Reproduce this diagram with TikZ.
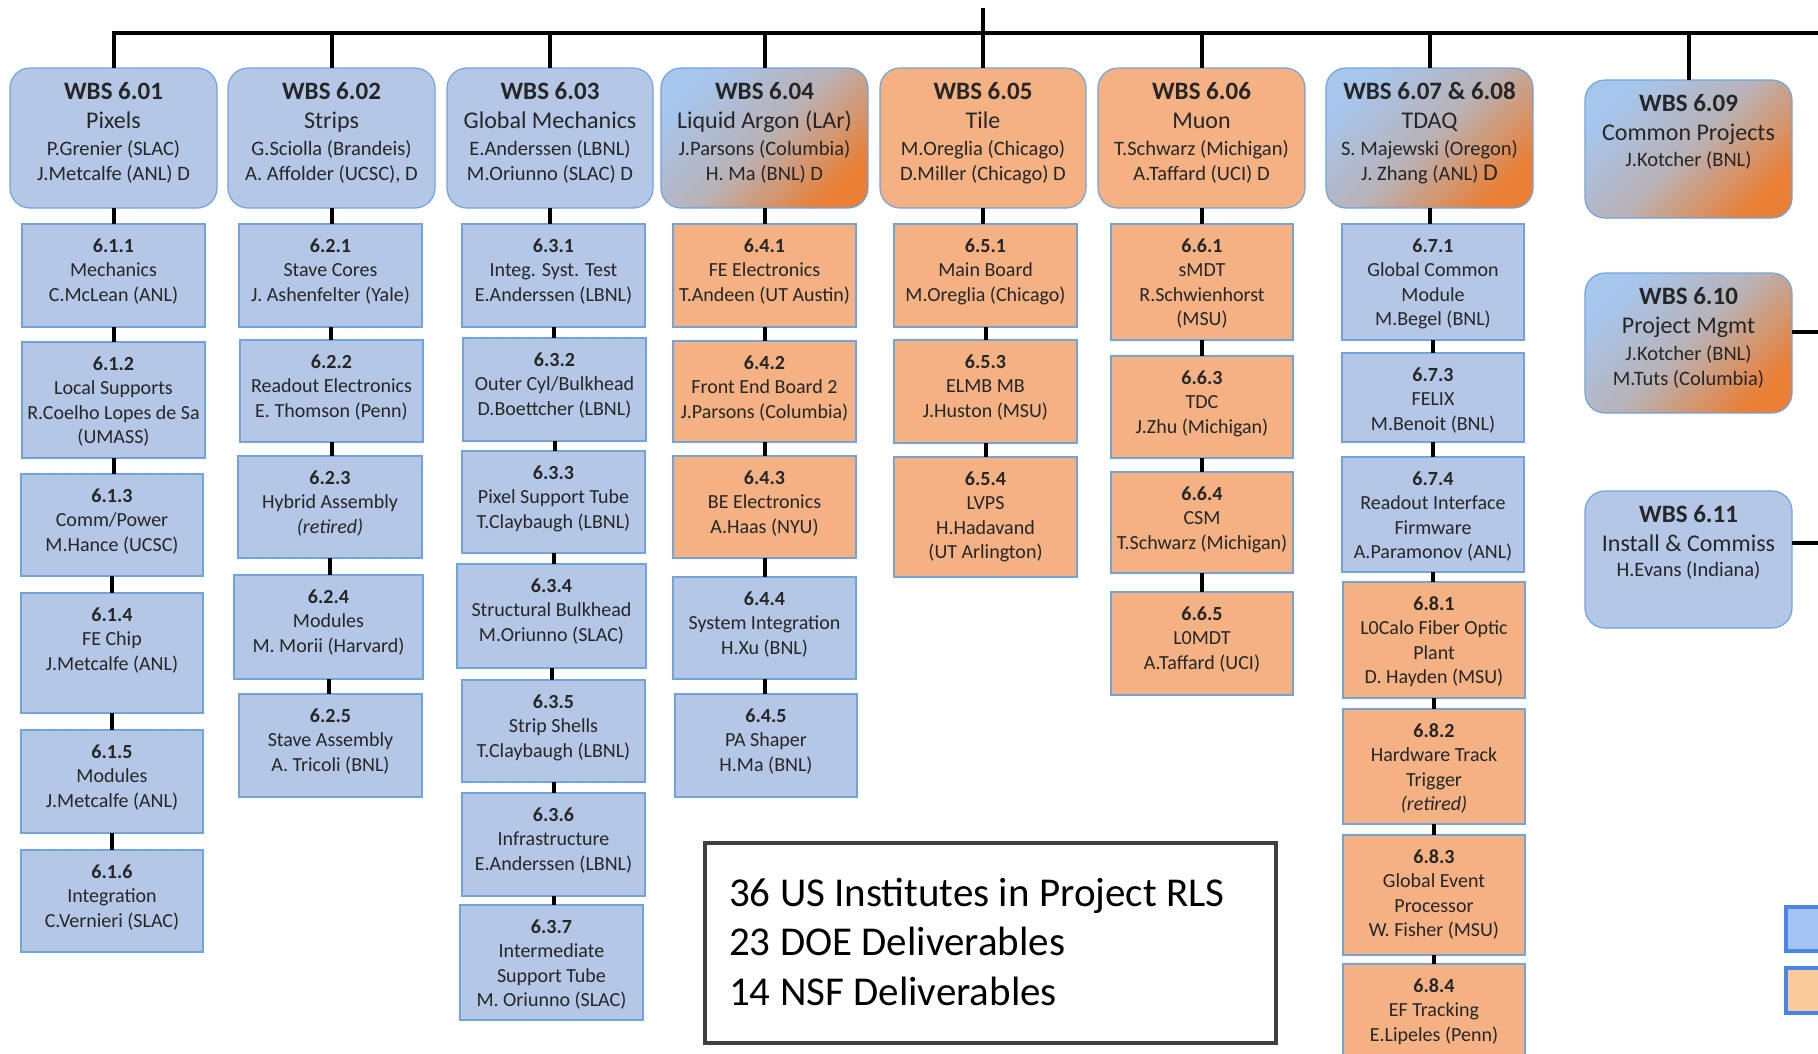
\documentclass[tikz,border=0pt]{standalone}
\usepackage{fontspec}
\setmainfont{Carlito}
\usetikzlibrary{calc}
\definecolor{bfill}{HTML}{B4C7E7}
\definecolor{bline}{HTML}{72A3DB}
\definecolor{ofill}{HTML}{F4B183}
\definecolor{gblue}{HTML}{A6C6EE}
\definecolor{gmid}{HTML}{B9B2B6}
\definecolor{gorange}{HTML}{EA7F35}
\definecolor{txt}{HTML}{262626}
\definecolor{lgblue}{HTML}{A4C2F4}
\definecolor{lgborder}{HTML}{4A86E8}
\definecolor{lgorange}{HTML}{F9CB9C}
\definecolor{sumline}{HTML}{404040}
\tikzset{
  boxbase/.style={draw=bline, line width=1.6pt, inner sep=0pt, outer sep=0pt, rectangle},
  subblue/.style={boxbase, fill=bfill},
  suborange/.style={boxbase, fill=ofill},
  topblue/.style={boxbase, line width=1.2pt, rounded corners=20pt, fill=bfill},
  toporange/.style={boxbase, line width=1.2pt, rounded corners=20pt, fill=ofill},
  topgrad/.style={boxbase, line width=1.2pt, rounded corners=20pt,
    top color=gblue, bottom color=gorange, middle color=gmid, shading angle=45},
  subtxt/.style={anchor=north, inner sep=0pt, align=center, text=txt,
    font=\fontsize{20pt}{24.5pt}\selectfont},
  toptxt/.style={anchor=north, inner sep=0pt, align=center, text=txt,
    font=\fontsize{20.5pt}{29pt}\selectfont},
  conn/.style={line width=4pt, draw=black},
  legendbox/.style={draw=lgborder, line width=4pt, inner sep=0pt, rectangle},
}
% name, style, x1, y1, x2, y2, text
\newcommand\subbx[7]{%
  \node[#2, minimum width={#5pt-#3pt}, minimum height={#6pt-#4pt}] (#1) at ({(#3+#5)/2},{(#4+#6)/2}) {};
  \node[subtxt] (#1t) at ([yshift=-12pt]#1.north) {\rule{0pt}{16pt}#7};
}
\newcommand\topbx[7]{%
  \node[#2, minimum width={#5pt-#3pt}, minimum height={#6pt-#4pt}] (#1) at ({(#3+#5)/2},{(#4+#6)/2}) {};
  \node[toptxt] (#1t) at ([yshift=-11pt]#1.north) {\rule{0pt}{20pt}#7};
}
\newcommand\hd[1]{\textbf{\fontsize{25pt}{29pt}\selectfont #1}}
\newcommand\tn[1]{{\fontsize{24pt}{29pt}\selectfont #1}}
\begin{document}
\begin{tikzpicture}[x=1pt,y=-1pt]
\path[use as bounding box] (0,0) rectangle (1818,1053);
\clip (0,0) rectangle (1818,1053);
\fill[white] (0,0) rectangle (1818,1053);

% ---------- top level boxes ----------
\topbx{t1}{topblue}{10}{68}{217}{208}{\hd{WBS 6.01}\\\tn{Pixels}\\[-2pt]P.Grenier (SLAC)\\[-4pt]J.Metcalfe (ANL) D}
\topbx{t2}{topblue}{228}{68}{435}{208}{\hd{WBS 6.02}\\\tn{Strips}\\[-2pt]G.Sciolla (Brandeis)\\[-4pt]A. Affolder (UCSC), D}
\topbx{t3}{topblue}{447}{68}{653}{208}{\hd{WBS 6.03}\\\tn{Global Mechanics}\\[-2pt]E.Anderssen (LBNL)\\[-4pt]M.Oriunno (SLAC) D}
\topbx{t4}{topgrad}{661}{68}{868}{208}{\hd{WBS 6.04}\\\tn{Liquid Argon (LAr)}\\[-2pt]J.Parsons (Columbia)\\[-4pt]H. Ma (BNL) D}
\topbx{t5}{toporange}{880}{68}{1086}{208}{\hd{WBS 6.05}\\\tn{Tile}\\[-2pt]M.Oreglia (Chicago)\\[-4pt]D.Miller (Chicago) D}
\topbx{t6}{toporange}{1098}{68}{1305}{208}{\hd{WBS 6.06}\\\tn{Muon}\\[-2pt]T.Schwarz (Michigan)\\[-4pt]A.Taffard (UCI) D}
\topbx{t7}{topgrad}{1326}{68}{1533}{208}{\hd{WBS 6.07 \& 6.08}\\\tn{TDAQ}\\[-2pt]S. Majewski (Oregon)\\[-4pt]J. Zhang (ANL) {\fontsize{24pt}{24pt}\selectfont D}}
\topbx{t9}{topgrad}{1585}{80}{1792}{218}{\hd{WBS 6.09}\\\tn{Common Projects}\\[-3pt]J.Kotcher (BNL)}
\topbx{t10}{topgrad}{1585}{273}{1792}{413}{\hd{WBS 6.10}\\\tn{Project Mgmt}\\[-2pt]J.Kotcher (BNL)\\[-4pt]M.Tuts (Columbia)}
\topbx{t11}{topblue}{1585}{491}{1792}{628}{\hd{WBS 6.11}\\\tn{Install \& Commiss}\\[-4pt]H.Evans (Indiana)}

% ---------- column 6.1 ----------
\subbx{s611}{subblue}{22}{224}{205}{327}{\textbf{6.1.1}\\Mechanics\\C.McLean (ANL)}
\subbx{s612}{subblue}{22}{342}{205}{458}{\textbf{6.1.2}\\Local Supports\\R.Coelho Lopes de Sa\\(UMASS)}
\subbx{s613}{subblue}{21}{474}{203}{576}{\textbf{6.1.3}\\Comm/Power\\M.Hance (UCSC)}
\subbx{s614}{subblue}{21}{593}{203}{713}{\textbf{6.1.4}\\FE Chip\\J.Metcalfe (ANL)}
\subbx{s615}{subblue}{21}{730}{203}{833}{\textbf{6.1.5}\\Modules\\J.Metcalfe (ANL)}
\subbx{s616}{subblue}{21}{850}{203}{952}{\textbf{6.1.6}\\Integration\\C.Vernieri (SLAC)}

% ---------- column 6.2 ----------
\subbx{s621}{subblue}{239}{224}{422}{327}{\textbf{6.2.1}\\Stave Cores\\J. Ashenfelter (Yale)}
\subbx{s622}{subblue}{240}{340}{423}{442}{\textbf{6.2.2}\\Readout Electronics\\E. Thomson (Penn)}
\subbx{s623}{subblue}{238}{456}{422}{558}{\textbf{6.2.3}\\Hybrid Assembly\\\textit{(retired)}}
\subbx{s624}{subblue}{234}{575}{423}{679}{\textbf{6.2.4}\\Modules\\M. Morii (Harvard)}
\subbx{s625}{subblue}{239}{694}{422}{797}{\textbf{6.2.5}\\Stave Assembly\\A. Tricoli (BNL)}

% ---------- column 6.3 ----------
\subbx{s631}{subblue}{462}{224}{645}{327}{\textbf{6.3.1}\\Integ. Syst. Test\\E.Anderssen (LBNL)}
\subbx{s632}{subblue}{463}{338}{646}{441}{\textbf{6.3.2}\\Outer Cyl/Bulkhead\\D.Boettcher (LBNL)}
\subbx{s633}{subblue}{462}{451}{645}{553}{\textbf{6.3.3}\\Pixel Support Tube\\T.Claybaugh (LBNL)}
\subbx{s634}{subblue}{457}{564}{646}{668}{\textbf{6.3.4}\\Structural Bulkhead\\M.Oriunno (SLAC)}
\subbx{s635}{subblue}{462}{680}{645}{782}{\textbf{6.3.5}\\Strip Shells\\T.Claybaugh (LBNL)}
\subbx{s636}{subblue}{462}{793}{645}{896}{\textbf{6.3.6}\\Infrastructure\\E.Anderssen (LBNL)}
\subbx{s637}{subblue}{460}{905}{643}{1020}{\textbf{6.3.7}\\Intermediate\\Support Tube\\M. Oriunno (SLAC)}

% ---------- column 6.4 ----------
\subbx{s641}{suborange}{673}{224}{856}{327}{\textbf{6.4.1}\\FE Electronics\\T.Andeen (UT Austin)}
\subbx{s642}{suborange}{673}{341}{856}{442}{\textbf{6.4.2}\\Front End Board 2\\J.Parsons (Columbia)}
\subbx{s643}{suborange}{673}{456}{856}{558}{\textbf{6.4.3}\\BE Electronics\\A.Haas (NYU)}
\subbx{s644}{subblue}{673}{577}{856}{679}{\textbf{6.4.4}\\System Integration\\H.Xu (BNL)}
\subbx{s645}{subblue}{675}{694}{857}{797}{\textbf{6.4.5}\\PA Shaper\\H.Ma (BNL)}

% ---------- column 6.5 ----------
\subbx{s651}{suborange}{894}{224}{1077}{327}{\textbf{6.5.1}\\Main Board\\M.Oreglia (Chicago)}
\subbx{s653}{suborange}{894}{340}{1077}{443}{\textbf{6.5.3}\\ELMB MB\\J.Huston (MSU)}
\subbx{s654}{suborange}{894}{457}{1077}{577}{\textbf{6.5.4}\\LVPS\\H.Hadavand\\(UT Arlington)}

% ---------- column 6.6 ----------
\subbx{s661}{suborange}{1111}{224}{1293}{340}{\textbf{6.6.1}\\sMDT\\R.Schwienhorst\\(MSU)}
\subbx{s663}{suborange}{1111}{356}{1293}{458}{\textbf{6.6.3}\\TDC\\J.Zhu (Michigan)}
\subbx{s664}{suborange}{1111}{472}{1293}{573}{\textbf{6.6.4}\\CSM\\T.Schwarz (Michigan)}
\subbx{s665}{suborange}{1111}{592}{1293}{695}{\textbf{6.6.5}\\L0MDT\\A.Taffard (UCI)}

% ---------- column 6.7 / 6.8 ----------
\subbx{s671}{subblue}{1342}{224}{1524}{340}{\textbf{6.7.1}\\Global Common\\Module\\M.Begel (BNL)}
\subbx{s673}{subblue}{1342}{353}{1524}{442}{\textbf{6.7.3}\\FELIX\\M.Benoit (BNL)}
\subbx{s674}{subblue}{1342}{457}{1524}{572}{\textbf{6.7.4}\\Readout Interface\\Firmware\\A.Paramonov (ANL)}
\subbx{s681}{suborange}{1343}{582}{1525}{698}{\textbf{6.8.1}\\L0Calo Fiber Optic\\Plant\\D. Hayden (MSU)}
\subbx{s682}{suborange}{1343}{709}{1525}{824}{\textbf{6.8.2}\\Hardware Track\\Trigger\\\textit{(retired)}}
\subbx{s683}{suborange}{1343}{835}{1525}{955}{\textbf{6.8.3}\\Global Event\\Processor\\W. Fisher (MSU)}
\subbx{s684}{suborange}{1343}{964}{1525}{1090}{\textbf{6.8.4}\\EF Tracking\\E.Lipeles (Penn)}

% ---------- summary box ----------
\node[draw=sumline, line width=4pt, fill=white, inner sep=0pt, minimum width=571pt, minimum height=200pt] (sum) at (990.5,943) {};
\node[anchor=north west, inner sep=0pt, align=left, text=black,
      font=\fontsize{41pt}{49.5pt}\selectfont] (sumt) at (729,876)
  {\rule{0pt}{30pt}36 US Institutes in Project RLS\\23 DOE Deliverables\\14 NSF Deliverables};

% ---------- legend (cut at right edge) ----------
\node[legendbox, fill=lgblue, minimum width=50pt, minimum height=44pt] (lg1) at (1811,929) {};
\node[legendbox, fill=lgorange, minimum width=50pt, minimum height=45pt] (lg2) at (1811,990.5) {};

% ---------- connectors ----------
\coordinate (bus) at (1818,33);
\coordinate (root) at (984,8);
\coordinate (e10) at (1818,332);
\coordinate (e11) at (1818,543);
\draw[conn] (t1.north) |- (bus);
\foreach \t in {t2,t3,t4,t6,t7,t9}{\draw[conn] (\t.north) -- (\t.north |- bus);}
\draw[conn] (t5.north) -- (t5.north |- root);
\draw[conn] (t10.east |- e10) -- (e10);
\draw[conn] (t11.east |- e11) -- (e11);
\foreach \a/\b in {t1/s611,s611/s612,s612/s613,s613/s614,s614/s615,s615/s616,
                   t2/s621,s621/s622,s622/s623,s623/s624,s624/s625,
                   t3/s631,s631/s632,s632/s633,s633/s634,s634/s635,s635/s636,s636/s637,
                   t4/s641,s641/s642,s642/s643,s643/s644,s644/s645,
                   t5/s651,s651/s653,s653/s654,
                   t6/s661,s661/s663,s663/s664,s664/s665,
                   t7/s671,s671/s673,s673/s674,s674/s681,s681/s682,s682/s683,s683/s684}
  {\draw[conn] (\a.south) -- (\a.south |- \b.north);}
\end{tikzpicture}
\end{document}
